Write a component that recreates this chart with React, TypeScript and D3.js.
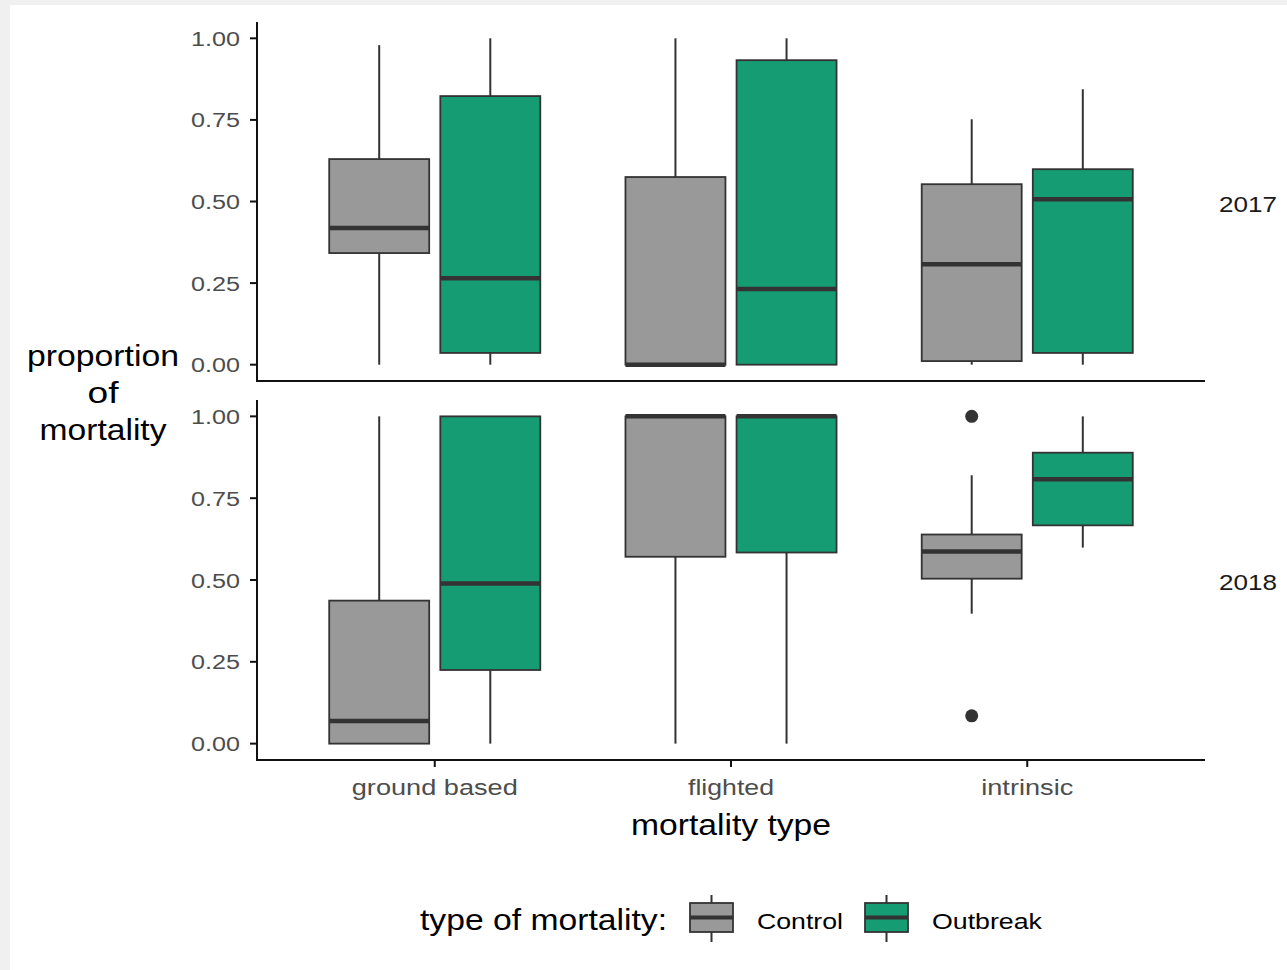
import React from "react";
import * as d3 from "d3";

const categories = ["ground based", "flighted", "intrinsic"];
const groups = ["Control", "Outbreak"];
const years = ["2017", "2018"];
const yTicks = [0, 0.25, 0.5, 0.75, 1];

// [lower whisker, Q1, median, Q3, upper whisker] per category
const control2017 = [
  [0, 0.342, 0.419, 0.63, 0.979],
  [0, 0, 0, 0.575, 1],
  [0, 0.011, 0.308, 0.553, 0.752],
];
const outbreak2017 = [
  [0, 0.036, 0.265, 0.823, 1],
  [0, 0, 0.232, 0.933, 1],
  [0, 0.036, 0.507, 0.599, 0.844],
];
const control2018 = [
  [0, 0, 0.069, 0.437, 1],
  [0, 0.571, 1, 1, 1],
  [0.397, 0.504, 0.587, 0.639, 0.82],
];
const outbreak2018 = [
  [0, 0.225, 0.489, 1, 1],
  [0, 0.584, 1, 1, 1],
  [0.599, 0.667, 0.808, 0.889, 1],
];
const outliersControl2017: number[][] = [[], [], []];
const outliersOutbreak2017: number[][] = [[], [], []];
const outliersControl2018: number[][] = [[], [], [1.0, 0.085]];
const outliersOutbreak2018: number[][] = [[], [], []];

const colors: Record<string, string> = { Control: "#999999", Outbreak: "#169c73" };

const stats: Record<string, Record<string, number[][]>> = {
  "2017": { Control: control2017, Outbreak: outbreak2017 },
  "2018": { Control: control2018, Outbreak: outbreak2018 },
};
const outs: Record<string, Record<string, number[][]>> = {
  "2017": { Control: outliersControl2017, Outbreak: outliersOutbreak2017 },
  "2018": { Control: outliersControl2018, Outbreak: outliersOutbreak2018 },
};

const FONT = "'Liberation Sans', Arial, Helvetica, sans-serif";
const STROKE = "#333333";

function T(props: any) {
  const { len, children, ...rest } = props;
  return (
    <text
      fontFamily={FONT}
      textLength={len}
      lengthAdjust="spacingAndGlyphs"
      {...rest}
    >
      {children}
    </text>
  );
}

export default function App() {
  const W = 1287;
  const H = 970;
  const left = 257;
  const right = 1205;
  const panels = [
    { year: years[0], top: 22, bottom: 381 },
    { year: years[1], top: 400, bottom: 760 },
  ];

  const x = d3.scaleBand<string>().domain(categories).range([left, right]).paddingInner(0).paddingOuter(0.1);
  const bw = x.bandwidth();
  const sub = d3.scaleBand<string>().domain(groups).range([0, bw * 0.75]);
  const boxW = sub.bandwidth() * 0.9;
  const subOffset = (bw - bw * 0.75) / 2;

  return (
    <svg width={W} height={H} style={{ position: "absolute", left: 0, top: 0 }}>
      <rect x={0} y={0} width={W} height={H} fill="#f0f0f0" />
      <rect x={10} y={5} width={W - 10} height={H - 5} fill="#ffffff" />

      {panels.map((p) => {
        const y = d3.scaleLinear().domain([-0.05, 1.05]).range([p.bottom, p.top]);
        return (
          <g key={p.year}>
            {categories.map((c, ci) =>
              groups.map((g) => {
                const s = stats[p.year][g][ci];
                const cx = (x(c) as number) + subOffset + (sub(g) as number) + sub.bandwidth() / 2;
                const [lo, q1, med, q3, hi] = s;
                return (
                  <g key={c + g}>
                    <line x1={cx} x2={cx} y1={y(hi)} y2={y(q3)} stroke={STROKE} strokeWidth={2} />
                    <line x1={cx} x2={cx} y1={y(q1)} y2={y(lo)} stroke={STROKE} strokeWidth={2} />
                    <rect
                      x={cx - boxW / 2}
                      y={y(q3)}
                      width={boxW}
                      height={Math.max(0, y(q1) - y(q3))}
                      fill={colors[g]}
                      stroke={STROKE}
                      strokeWidth={1.8}
                    />
                    <line x1={cx - boxW / 2} x2={cx + boxW / 2} y1={y(med)} y2={y(med)} stroke={STROKE} strokeWidth={4.5} />
                    {outs[p.year][g][ci].map((o, oi) => (
                      <circle key={oi} cx={cx} cy={y(o)} r={6.5} fill={STROKE} />
                    ))}
                  </g>
                );
              })
            )}
            <line x1={left} x2={left} y1={p.top} y2={p.bottom + 1} stroke="#111" strokeWidth={2} />
            <line x1={left - 1} x2={right} y1={p.bottom} y2={p.bottom} stroke="#111" strokeWidth={2} />
            {yTicks.map((t) => (
              <g key={t}>
                <line x1={left - 7} x2={left} y1={y(t)} y2={y(t)} stroke="#111" strokeWidth={2} />
                <T x={240} y={y(t) + 7.5} textAnchor="end" fontSize={20.5} fill="#4d4d4d" len={49}>
                  {d3.format(".2f")(t)}
                </T>
              </g>
            ))}
            <T x={1248} y={(p.top + p.bottom) / 2 + 10} textAnchor="middle" fontSize={22} fill="#1a1a1a" len={58}>
              {p.year}
            </T>
          </g>
        );
      })}

      {categories.map((c) => {
        const cx = (x(c) as number) + bw / 2;
        const lens: Record<string, number> = { "ground based": 166, flighted: 86, intrinsic: 92 };
        return (
          <g key={c}>
            <line x1={cx} x2={cx} y1={760} y2={767} stroke="#111" strokeWidth={2} />
            <T x={cx} y={795} textAnchor="middle" fontSize={22.5} fill="#4d4d4d" len={lens[c]}>
              {c}
            </T>
          </g>
        );
      })}

      <T x={(left + right) / 2} y={835} textAnchor="middle" fontSize={29} fill="#000" len={200}>
        mortality type
      </T>
      <T x={103} y={366} textAnchor="middle" fontSize={29} fill="#000" len={152}>
        proportion
      </T>
      <T x={103} y={403} textAnchor="middle" fontSize={29} fill="#000" len={31}>
        of
      </T>
      <T x={103} y={440} textAnchor="middle" fontSize={29} fill="#000" len={127}>
        mortality
      </T>

      <T x={420} y={930} fontSize={29} fill="#000" len={247}>
        type of mortality:
      </T>
      {groups.map((g, i) => {
        const kx = [690, 865][i];
        const tx = [757, 932][i];
        const lens = [86, 110];
        return (
          <g key={g}>
            <line x1={kx + 21.5} x2={kx + 21.5} y1={895} y2={942} stroke={STROKE} strokeWidth={2} />
            <rect x={kx} y={903} width={43} height={29} fill={colors[g]} stroke={STROKE} strokeWidth={1.8} />
            <line x1={kx} x2={kx + 43} y1={917.5} y2={917.5} stroke={STROKE} strokeWidth={4} />
            <T x={tx} y={929} fontSize={22.5} fill="#000" len={lens[i]}>
              {g}
            </T>
          </g>
        );
      })}
    </svg>
  );
}
